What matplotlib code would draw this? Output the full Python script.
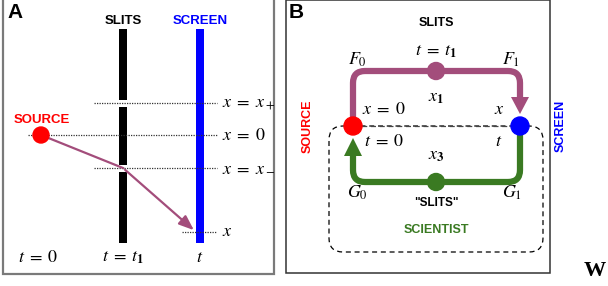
import matplotlib
matplotlib.use('Agg')
import matplotlib.pyplot as plt
from matplotlib.patches import Circle, Rectangle, FancyBboxPatch, Polygon, PathPatch
from matplotlib.path import Path

plt.rcParams['mathtext.fontset'] = 'stix'
plt.rcParams['font.family'] = ['Liberation Sans', 'DejaVu Sans']

# panel A: barrier levels and their labels
level_names = [r'$x\;=\;x_+$', r'$x\;=\;0$', r'$x\;=\;x_-$', '$x$']
level_y = [103, 135, 168, 232]
level_x0 = [94, 28, 94, 182]
time_names = [r'$t\;=\;0$', r'$t\;=\;t_{\mathbf{1}}$', '$t$']
time_x = [38, 123, 200]
# photon path (source -> lower slit -> screen)
path_x = [41, 123, 196]
path_y = [135, 168, 232]

# panel B: loop labels
b_labels = ['$F_0$', r'$t\;=\;t_{\mathbf{1}}$', '$F_1$', r'$x_{\mathbf{1}}$', r'$x\;=\;0$', r'$t\;=\;0$',
            '$x$', '$t$', r'$x_{\mathbf{3}}$', '$G_0$', '$G_1$']
b_lx = [357, 436, 511, 436, 384, 384, 499, 499, 436, 357, 512]
b_ly = [60, 52, 60, 97, 110, 142, 110, 142, 155, 193, 193]

purple = '#a34d7b'
green = '#3a7a22'
mfs = 13

fig = plt.figure(figsize=(6.08, 2.86), dpi=100)
ax = fig.add_axes([0, 0, 1, 1])
ax.set_xlim(0, 608)
ax.set_ylim(286, 0)
ax.axis('off')

# ---------- panel A ----------
ax.add_patch(Rectangle((3, -5), 271, 279, fill=False, ec='#7a7a7a', lw=1.6))
ax.text(7, 13, 'A', fontsize=15, fontweight='bold', va='center', ha='left')
ax.text(123, 21, 'SLITS', fontsize=9.5, fontweight='bold', ha='center', va='center')
ax.text(200, 21, 'SCREEN', fontsize=9.5, fontweight='bold', ha='center', va='center', color='#0000ff')

# slit wall with two gaps
for y0, y1 in [(29, 100), (107, 165), (172, 243)]:
    ax.add_patch(Rectangle((119, y0), 8, y1 - y0, color='black', lw=0))
ax.add_patch(Rectangle((196, 29), 8, 214, color='#0000ff', lw=0))

for name, y, x0 in zip(level_names, level_y, level_x0):
    ax.plot([x0, 217], [y, y], color='#333333', lw=0.9, ls=(0, (1, 1)))
    ax.text(222, y, name, fontsize=mfs, va='center', ha='left')

for name, x in zip(time_names, time_x):
    ax.text(x, 257, name, fontsize=mfs, va='center', ha='center')

ax.text(42, 120, 'SOURCE', fontsize=9.5, fontweight='bold', color='#ff0000', ha='center', va='center')
ax.plot(path_x[:2], path_y[:2], color=purple, lw=1.6)
ax.annotate('', xy=(path_x[2], path_y[2]), xytext=(path_x[1], path_y[1]),
            arrowprops=dict(arrowstyle='-|>,head_length=0.9,head_width=0.35', color=purple, lw=1.6))
ax.add_patch(Circle((path_x[0], path_y[0]), 8, color='#ff0000', zorder=5))

# ---------- panel B ----------
ax.add_patch(Rectangle((286, 0), 264, 273, fill=False, ec='#333333', lw=1.1))
ax.text(289, 13, 'B', fontsize=15, fontweight='bold', va='center', ha='left')
ax.text(436, 23, 'SLITS', fontsize=9, fontweight='bold', ha='center', va='center')

# dashed scientist loop
ax.add_patch(FancyBboxPatch((329, 126), 214, 126, boxstyle='round,pad=0,rounding_size=14',
                            fill=False, ec='black', lw=0.9, ls=(0, (4, 3))))
ax.plot([353, 520], [126, 126], color='#444444', lw=0.9, ls=(0, (4, 3)))

r = 12
top = Path([(353, 122), (353, 71 + r), (353, 71), (353 + r, 71), (520 - r, 71), (520, 71), (520, 71 + r), (520, 98)],
           [Path.MOVETO, Path.LINETO, Path.CURVE3, Path.CURVE3, Path.LINETO, Path.CURVE3, Path.CURVE3, Path.LINETO])
ax.add_patch(PathPatch(top, fill=False, ec=purple, lw=4.5, capstyle='butt'))
ax.add_patch(Polygon([(511, 97), (529, 97), (520, 114)], color=purple, lw=0))

bot = Path([(520, 130), (520, 182 - r), (520, 182), (520 - r, 182), (353 + r, 182), (353, 182), (353, 182 - r), (353, 155)],
           [Path.MOVETO, Path.LINETO, Path.CURVE3, Path.CURVE3, Path.LINETO, Path.CURVE3, Path.CURVE3, Path.LINETO])
ax.add_patch(PathPatch(bot, fill=False, ec=green, lw=4.5, capstyle='butt'))
ax.add_patch(Polygon([(344, 156), (362, 156), (353, 138)], color=green, lw=0))

ax.add_patch(Circle((353, 126), 9, color='#ff0000', zorder=5))
ax.add_patch(Circle((520, 126), 9, color='#0000ff', zorder=5))
ax.add_patch(Circle((436, 71), 8.5, color=purple, zorder=5))
ax.add_patch(Circle((436, 182), 8.5, color=green, zorder=5))

for name, x, y in zip(b_labels, b_lx, b_ly):
    ax.text(x, y, name, fontsize=mfs, ha='center', va='center')

ax.text(436, 203, '"SLITS"', fontsize=8.5, fontweight='bold', ha='center', va='center')
ax.text(436, 230, 'SCIENTIST', fontsize=9, fontweight='bold', ha='center', va='center', color=green)
ax.text(308, 126, 'SOURCE', fontsize=9, fontweight='bold', ha='center', va='center', color='#ff0000', rotation=90)
ax.text(561, 126, 'SCREEN', fontsize=9, fontweight='bold', ha='center', va='center', color='#0000ff', rotation=90)

ax.text(606, 271, 'W', fontsize=16, fontweight='bold', family='Liberation Serif', ha='right', va='center')

fig.savefig('out.png', dpi=100)
